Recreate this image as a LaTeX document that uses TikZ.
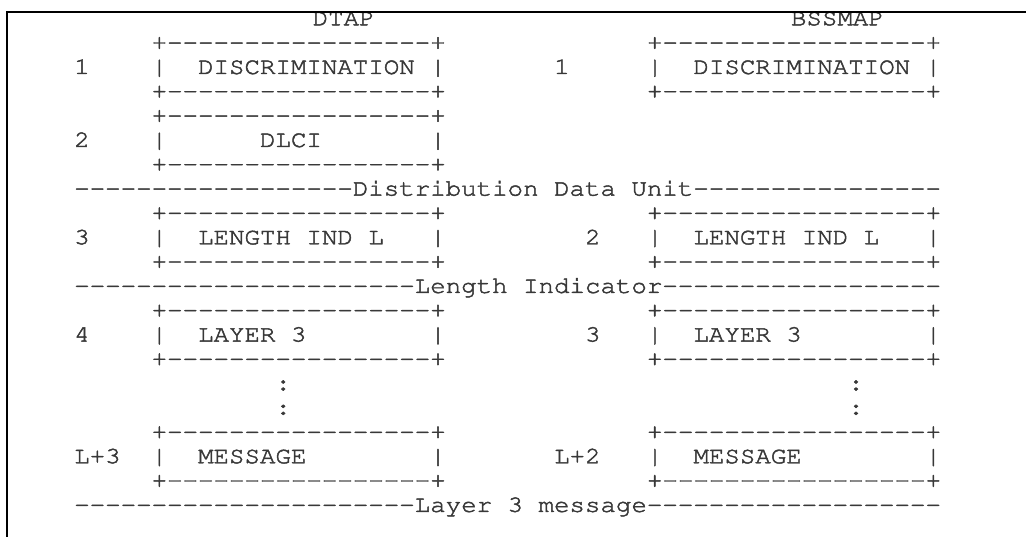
\documentclass[tikz,border=0pt]{standalone}
\usepackage{graphicx}
\tikzset{
  txt/.style={anchor=base west, inner sep=0pt, outer sep=0pt, text=black!78,
    font=\fontencoding{T1}\fontfamily{pcr}\fontsize{11.8pt}{12pt}\selectfont},
  frame/.style={line width=1.1pt, black}
}
% slightly heavier strokes for the typewriter text
\newcommand{\mono}[1]{\special{pdf:literal direct 2 Tr 0.22 w}\scalebox{1.093}[1]{#1}\special{pdf:literal direct 0 Tr}}
\newcommand{\dsh}[1]{\foreach \dd in {1,...,#1}{-}}
\newcommand{\spc}[1]{\foreach \dd in {1,...,#1}{\ }}
\newcommand{\boxedge}{+\dsh{17}+}

\begin{document}
\begin{tikzpicture}[x=7.74pt, y=-12.165pt]
\useasboundingbox (-37.13pt,12.65pt) rectangle (475.87pt,-255.35pt);
% headings
\node[txt] (dtap) at (15.4,0) {\mono{DTAP}};
\node[txt] (bssmap) at (46.3,0) {\mono{BSSMAP}};
% box edges
\foreach \r in {1,3,4,6,8,10,12,14,17,19}
  \node[txt] (dedge\r) at (5,\r) {\mono{\boxedge}};
\foreach \r in {1,3,8,10,12,14,17,19}
  \node[txt] (bedge\r) at (37,\r) {\mono{\boxedge}};
% DTAP side
\node[txt] (dnum1) at (0,2) {\mono{1}};
\node[txt] (ddisc) at (5,2) {\mono{|\spc{2}DISCRIMINATION\spc{1}|}};
\node[txt] (dnum2) at (0,5) {\mono{2}};
\node[txt] (ddlci) at (5,5) {\mono{|\spc{6}DLCI\spc{7}|}};
\node[txt] (dnum3) at (0,9) {\mono{3}};
\node[txt] (dlen) at (5,9) {\mono{|\spc{2}LENGTH IND L\spc{3}|}};
\node[txt] (dnum4) at (0,13) {\mono{4}};
\node[txt] (dlay) at (5,13) {\mono{|\spc{2}LAYER 3\spc{8}|}};
\node[txt] (ddot1) at (13,15) {\mono{:}};
\node[txt] (ddot2) at (13,16) {\mono{:}};
\node[txt] (dnumL) at (0,18) {\mono{L+3}};
\node[txt] (dmsg) at (5,18) {\mono{|\spc{2}MESSAGE\spc{8}|}};
% BSSMAP side
\node[txt] (bnum1) at (31,2) {\mono{1}};
\node[txt] (bdisc) at (37,2) {\mono{|\spc{2}DISCRIMINATION\spc{1}|}};
\node[txt] (bnum2) at (33,9) {\mono{2}};
\node[txt] (blen) at (37,9) {\mono{|\spc{2}LENGTH IND L\spc{3}|}};
\node[txt] (bnum3) at (33,13) {\mono{3}};
\node[txt] (blay) at (37,13) {\mono{|\spc{2}LAYER 3\spc{8}|}};
\node[txt] (bdot1) at (50,15) {\mono{:}};
\node[txt] (bdot2) at (50,16) {\mono{:}};
\node[txt] (bnumL) at (31,18) {\mono{L+2}};
\node[txt] (bmsg) at (37,18) {\mono{|\spc{2}MESSAGE\spc{8}|}};
% separators
\node[txt] (ddu) at (0,7) {\mono{\dsh{18}Distribution Data Unit\dsh{16}}};
\node[txt] (li) at (0,11) {\mono{\dsh{22}Length Indicator\dsh{18}}};
\node[txt] (l3m) at (0,20) {\mono{\dsh{22}Layer 3 message\dsh{19}}};
% frame
\draw[frame] (-33.63pt,-262pt) -- (-33.63pt,6.65pt) -- (482pt,6.65pt);
\end{tikzpicture}
\end{document}
